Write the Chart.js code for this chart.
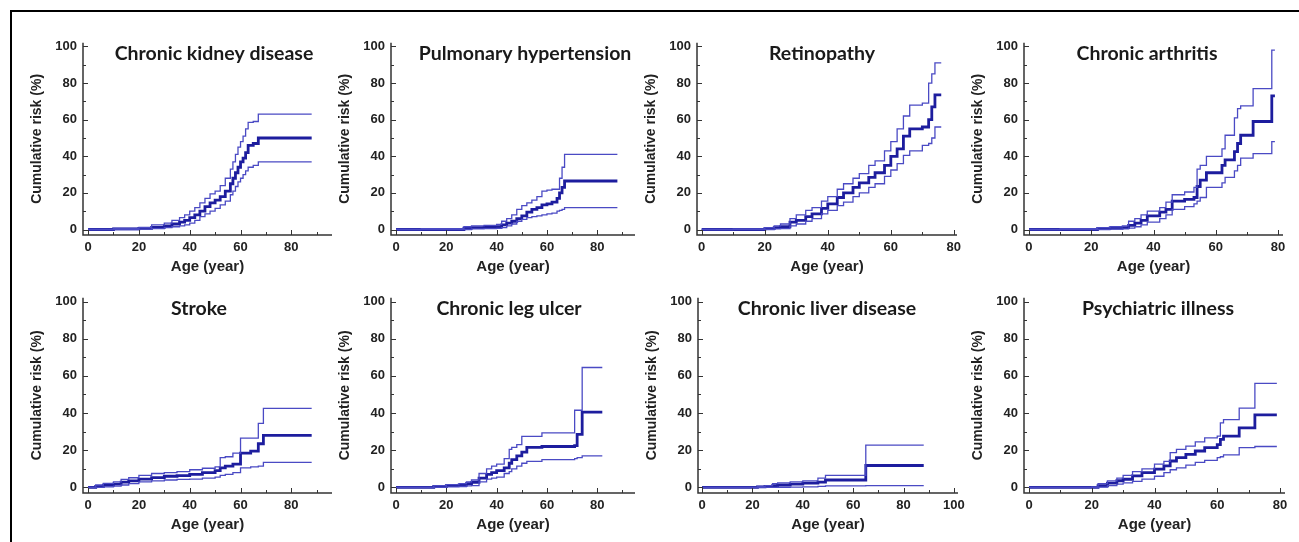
<!DOCTYPE html>
<html>
<head>
<meta charset="utf-8">
<script src="https://cdn.jsdelivr.net/npm/chart.js@4.4.1/dist/chart.umd.min.js"></script>
<style>
  html, body { margin: 0; padding: 0; background: #fff; }
  #page { position: relative; width: 1299px; height: 542px; overflow: hidden; }
  #frame { position: absolute; left: 10px; top: 10px; width: 1300px; height: 540px;
           border-top: 2px solid #000; border-left: 2px solid #000; }
  canvas { position: absolute; }
</style>
</head>
<body>
<div id="page"><div id="frame"></div></div>
<script>
// --- tick values (labels shown every 20) ---
const yTickValues = [0, 10, 20, 30, 40, 50, 60, 70, 80, 90, 100];
const xTicks90 = [0, 10, 20, 30, 40, 50, 60, 70, 80, 90];
const xTicks80 = [0, 10, 20, 30, 40, 50, 60, 70, 80];
const xTicks100 = [0, 10, 20, 30, 40, 50, 60, 70, 80, 90, 100];

const titles = ['Chronic kidney disease', 'Pulmonary hypertension', 'Retinopathy', 'Chronic arthritis',
                'Stroke', 'Chronic leg ulcer', 'Chronic liver disease', 'Psychiatric illness'];

// --- cumulative risk (%), estimate with lower / upper bounds ---
const ckdAge = [0, 10, 20, 25, 30, 33, 36, 38, 40, 42, 44, 46, 48, 50, 52, 54, 56, 57, 58, 59, 60, 61, 62, 63, 65, 67, 88];
const ckdEst = [0, 0.3, 0.6, 1.2, 2, 3, 4, 5, 6.5, 8, 10, 12.5, 14.5, 16, 18, 21, 25, 28, 31, 34, 37, 39, 42, 46, 47, 50, 50];
const ckdHi  = [0, 0.6, 1.2, 2.5, 3.5, 5, 6.5, 8, 10, 12, 14.5, 17, 19.5, 21, 24, 28, 33, 37, 41, 45, 48, 51, 55, 58.5, 59, 63, 63];
const ckdLo  = [0, 0, 0.2, 0.5, 1, 1.5, 2, 2.5, 3.5, 5, 7, 8.5, 10, 11.5, 13.5, 15.5, 19, 21, 23.5, 26, 28, 30, 32, 34, 35, 37, 37];

const phAge = [0, 10, 20, 27, 30, 35, 40, 42, 44, 46, 48, 50, 52, 54, 56, 58, 60, 62, 64, 65, 66, 67, 88];
const phEst = [0, 0, 0, 0.8, 1, 1.2, 1.5, 2.5, 3.5, 4.5, 6, 7.5, 9.5, 11, 12, 13.5, 14, 15, 17, 20, 23, 26.5, 26.5];
const phHi  = [0, 0.5, 0.5, 1.5, 2, 2.3, 2.8, 4.5, 6, 8, 11, 13, 14.5, 16, 18, 21, 21.5, 22, 22, 28, 34, 41, 41];
const phLo  = [0, 0, 0, 0, 0.3, 0.5, 0.6, 1, 2, 3, 4.5, 5.5, 6.5, 7, 7.5, 8, 8.5, 9, 10, 10.5, 11, 12, 12];

const retAge = [0, 10, 20, 23, 25, 28, 30, 33, 35, 38, 40, 43, 45, 48, 50, 53, 55, 58, 60, 62, 64, 66, 70, 72, 73, 74, 76];
const retEst = [0, 0, 0.5, 1, 1.5, 4, 5, 7, 8.5, 11.5, 14, 17.5, 20, 23, 25.5, 28.5, 31, 35, 40, 44, 51, 55, 56, 60, 67, 73.5, 73.5];
const retHi  = [0, 0.3, 1, 2, 3, 6, 8, 10.5, 12, 15.5, 18, 22, 25, 28, 30.5, 35, 37.5, 43, 48, 55, 62, 68, 69, 80, 85, 91, 91];
const retLo  = [0, 0, 0, 0.3, 0.5, 2, 3, 4.5, 6, 8.5, 10.5, 13, 15, 18, 20, 23, 25, 29, 32.5, 36, 40.5, 43, 46, 47, 50, 56, 56];

const arthAge = [0, 10, 22, 26, 30, 32, 34, 36, 38, 42, 44, 46, 50, 53, 54, 55, 57, 62, 63, 66, 67, 68, 72, 78, 79];
const arthEst = [0, 0, 0.5, 0.8, 1, 2.3, 3.5, 5, 7.5, 9.5, 11, 15.5, 16.5, 17.5, 23.5, 27, 31, 35, 38, 42.5, 47, 51.5, 59, 73, 73];
const arthHi  = [0, 0.5, 1, 1.5, 2, 4.5, 6, 8, 10, 12, 15, 19, 20.5, 23, 33, 35, 40, 44, 51.5, 61, 66, 67.5, 77, 98, 98];
const arthLo  = [0, 0, 0, 0.2, 0.3, 0.8, 1.5, 2.5, 4, 6, 8, 11, 12.5, 14, 15.5, 17.5, 23, 25.5, 28.5, 32, 35, 39, 41.5, 48, 48];

const strokeAge = [0, 3, 6, 10, 13, 16, 20, 25, 30, 35, 40, 45, 50, 52, 54, 57, 60, 64, 67, 69, 88];
const strokeEst = [0, 0.5, 1.2, 1.8, 2.8, 3.5, 4.5, 5.3, 6, 6.3, 7, 8, 9, 10.5, 11.5, 12.5, 18.5, 19.5, 23.5, 28, 28];
const strokeHi  = [0, 1.3, 2.2, 3, 4.3, 5.2, 6.5, 7.5, 8, 8.5, 9.5, 10.3, 11, 16, 16.5, 18.5, 26.5, 26.5, 34.5, 42.5, 42.5];
const strokeLo  = [0, 0, 0.3, 0.7, 1.3, 2, 3, 3.5, 4, 4.3, 4.5, 5, 5.5, 6.5, 7, 8, 10.5, 11, 11.5, 13.5, 13.5];

const ulcerAge = [0, 15, 20, 25, 28, 30, 33, 36, 38, 40, 43, 45, 46, 48, 50, 52, 58, 71, 72, 74, 82];
const ulcerEst = [0, 0.5, 1, 1.2, 2, 2.7, 5, 7, 8, 9, 10.5, 13, 15, 17, 19, 21.5, 22, 22.5, 28.5, 40.5, 40.5];
const ulcerHi  = [0, 1, 1.5, 2, 3, 4, 7.5, 10, 11.5, 12.5, 15.5, 20.5, 21.5, 23, 27.5, 27.5, 29.3, 41.5, 41.5, 64.5, 64.5];
const ulcerLo  = [0, 0, 0.3, 0.5, 0.8, 1, 3, 4.5, 5, 5.5, 7.5, 8.5, 10, 11.5, 13, 14, 15, 15.5, 16, 17, 17];

const liverAge = [0, 22, 25, 28, 30, 35, 40, 46, 49, 65, 88];
const liverEst = [0, 0.3, 0.6, 1, 1.3, 1.8, 2.3, 2.8, 4, 11.8, 11.8];
const liverHi  = [0, 0.5, 1, 2, 2.5, 3, 3.5, 5, 6.5, 22.8, 22.8];
const liverLo  = [0, 0, 0, 0, 0.1, 0.2, 0.3, 0.6, 0.8, 1, 1];

const psyAge = [0, 20, 22, 25, 28, 30, 33, 36, 40, 43, 45, 47, 50, 53, 56, 60, 61, 62, 67, 72, 79];
const psyEst = [0, 0, 0.9, 2.3, 3.6, 4.4, 6.2, 8, 9.8, 11.6, 14.2, 16, 17.8, 19.6, 21.4, 23, 25.8, 27.6, 32, 39, 39];
const psyHi  = [0, 0.3, 2, 3.5, 5, 6.5, 8.5, 10, 12.5, 14, 18.7, 20.5, 22.2, 24.5, 26.7, 27.6, 34.7, 36.5, 42.7, 56, 56];
const psyLo  = [0, 0, 0.2, 1, 1.8, 2.5, 3.3, 4.5, 6, 8, 9.5, 10.5, 12, 13.5, 14.5, 16, 16.5, 17.5, 21.4, 22, 22];

const series = [
    [ckdAge, ckdEst, ckdLo, ckdHi],
    [phAge, phEst, phLo, phHi],
    [retAge, retEst, retLo, retHi],
    [arthAge, arthEst, arthLo, arthHi],
    [strokeAge, strokeEst, strokeLo, strokeHi],
    [ulcerAge, ulcerEst, ulcerLo, ulcerHi],
    [liverAge, liverEst, liverLo, liverHi],
    [psyAge, psyEst, psyLo, psyHi]
];

// --- panel placement on the page (pixels) and axis ranges ---
const panelXRange = [[-2, 96], [-2, 95], [-1.5, 81], [-1.6, 81.6], [-2, 96], [-2, 95], [-1.6, 101.6], [-1.6, 81.6]];
const panelXTicks = [xTicks90, xTicks90, xTicks80, xTicks80, xTicks90, xTicks90, xTicks100, xTicks80];
const panelLeft  = [83, 391, 697, 1024, 83, 391, 698, 1024];
const panelRight = [332, 635, 957, 1283, 332, 635, 958, 1285];
const rowTop = [39, 294], rowBottom = [235, 493];
const titleCenter = [214, 525, 822, 1147, 199, 509, 827, 1158];

const Y_AXIS_W = 60, X_AXIS_H = 42, PAD_TOP = 10, PAD_RIGHT = 14;
const EST_COLOR = '#1d1d9e', CI_COLOR = '#4a4ac4', AXIS_COLOR = '#333';
const ARIAL = '"Liberation Sans", Arial, sans-serif';

const axesPlugin = {
    id: 'innerAxes',
    afterDraw(chart, args, opts) {
        const { ctx, chartArea: a, scales: { x, y } } = chart;
        ctx.save();
        ctx.strokeStyle = AXIS_COLOR;
        ctx.lineWidth = 1.5;
        ctx.beginPath();
        ctx.moveTo(a.left, a.top);
        ctx.lineTo(a.left, a.bottom);
        ctx.lineTo(a.right, a.bottom);
        ctx.stroke();
        ctx.lineWidth = 1;
        ctx.beginPath();
        y.ticks.forEach(t => {
            const py = Math.round(y.getPixelForValue(t.value)) + 0.5;
            const len = t.value % 20 === 0 ? 5 : 3;
            ctx.moveTo(a.left, py);
            ctx.lineTo(a.left + len, py);
        });
        x.ticks.forEach(t => {
            const px = Math.round(x.getPixelForValue(t.value)) + 0.5;
            const len = t.value % 20 === 0 ? 5 : 3;
            ctx.moveTo(px, a.bottom);
            ctx.lineTo(px, a.bottom - len);
        });
        ctx.stroke();
        // panel title inside the plot area
        ctx.fillStyle = '#1a1a1a';
        ctx.font = 'bold 19.5px Lato, "Open Sans", sans-serif';
        ctx.textAlign = 'center';
        ctx.textBaseline = 'middle';
        ctx.fillText(opts.text, opts.cx, a.top + 11);
        ctx.restore();
    }
};

const stepLine = (ages, vals, color, width) => ({
    data: ages.map((a, i) => ({ x: a, y: vals[i] })),
    borderColor: color,
    borderWidth: width,
    stepped: true,
    pointRadius: 0,
    fill: false
});

const tickFont = { family: ARIAL, size: 13, weight: 'bold' };

series.forEach((s, i) => {
    const [age, est, lo, hi] = s;
    const row = i < 4 ? 0 : 1;
    const canvas = document.createElement('canvas');
    const left = panelLeft[i] - Y_AXIS_W;
    const top = rowTop[row] - PAD_TOP;
    const w = Y_AXIS_W + (panelRight[i] - panelLeft[i]) + PAD_RIGHT;
    const h = PAD_TOP + (rowBottom[row] - rowTop[row]) + X_AXIS_H;
    canvas.width = w;
    canvas.height = h;
    canvas.style.left = left + 'px';
    canvas.style.top = top + 'px';
    document.getElementById('page').appendChild(canvas);

    const xTickList = panelXTicks[i];

    new Chart(canvas, {
        type: 'line',
        data: {
            datasets: [
                stepLine(age, hi, CI_COLOR, 1.3),
                stepLine(age, lo, CI_COLOR, 1.3),
                stepLine(age, est, EST_COLOR, 2.8)
            ]
        },
        options: {
            responsive: false,
            animation: false,
            layout: { padding: { top: PAD_TOP, right: PAD_RIGHT, left: 0, bottom: 0 } },
            plugins: {
                legend: { display: false },
                tooltip: { enabled: false },
                innerAxes: { text: titles[i], cx: titleCenter[i] - left }
            },
            scales: {
                x: {
                    type: 'linear',
                    min: panelXRange[i][0],
                    max: panelXRange[i][1],
                    afterBuildTicks: sc => { sc.ticks = xTickList.map(v => ({ value: v })); },
                    afterFit: sc => { sc.height = X_AXIS_H; },
                    grid: { display: false, drawTicks: false },
                    border: { display: false },
                    ticks: {
                        autoSkip: false, maxRotation: 0, padding: 5,
                        color: '#222', font: tickFont,
                        callback: v => (v % 20 === 0 ? String(v) : '')
                    },
                    title: {
                        display: true, text: 'Age (year)', color: '#222',
                        font: { family: ARIAL, size: 15, weight: 'bold' },
                        padding: { top: 0, bottom: 1 }
                    }
                },
                y: {
                    min: -3,
                    max: 102,
                    afterBuildTicks: sc => { sc.ticks = yTickValues.map(v => ({ value: v })); },
                    afterFit: sc => { sc.width = Y_AXIS_W; },
                    grid: { display: false, drawTicks: false },
                    border: { display: false },
                    ticks: {
                        autoSkip: false, padding: 6,
                        color: '#222', font: tickFont,
                        callback: v => (v % 20 === 0 ? String(v) : '')
                    },
                    title: {
                        display: true, text: 'Cumulative risk (%)', color: '#222',
                        font: { family: ARIAL, size: 14, weight: 'bold' },
                        padding: { top: 6, bottom: 0 }
                    }
                }
            }
        },
        plugins: [axesPlugin]
    });
});
</script>
</body>
</html>
